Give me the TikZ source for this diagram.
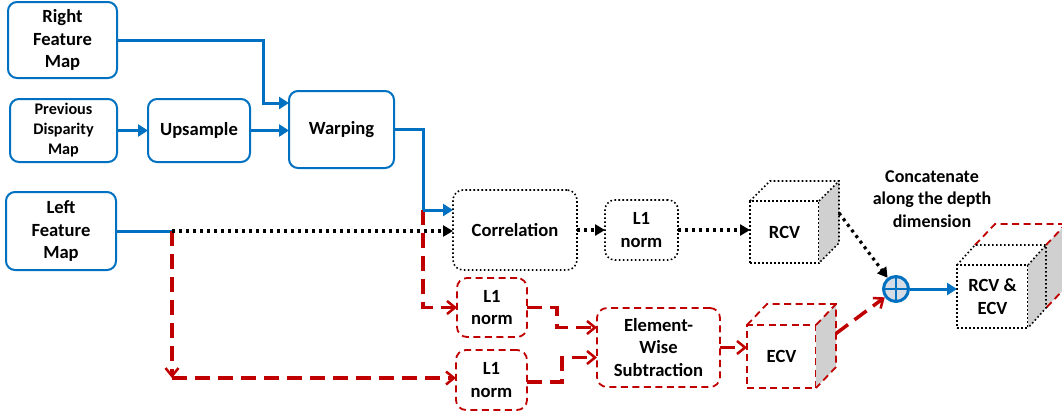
\documentclass[tikz,border=0pt]{standalone}
\usepackage{fontspec}
\setmainfont{Carlito}
\usetikzlibrary{arrows.meta,calc}
\definecolor{cblue}{RGB}{0,112,192}
\definecolor{cred}{RGB}{192,0,0}
\definecolor{cgray}{RGB}{208,208,208}
\definecolor{cplus}{RGB}{214,220,229}
\begin{document}
\begin{tikzpicture}[x=1pt,y=-1pt,
  lbl/.style={font=\fontsize{18.6}{22.5}\selectfont\bfseries, align=center, inner sep=0pt, outer sep=0pt},
  small/.style={font=\fontsize{16.2}{20}\selectfont\bfseries},
  bluebox/.style={lbl, draw=cblue, line width=2pt, rounded corners=9pt},
  dotbox/.style={lbl, draw=black, line width=1.6pt, dash pattern=on 1.6pt off 2.4pt, rounded corners=10pt},
  redbox/.style={lbl, draw=cred, line width=1.8pt, dash pattern=on 7pt off 4.5pt, rounded corners=10pt},
  cubedot/.style={draw=black, line width=1.6pt, dash pattern=on 1.6pt off 2.4pt},
  cubered/.style={draw=cred, line width=1.8pt, dash pattern=on 7pt off 4.5pt},
  blueline/.style={draw=cblue, line width=3pt},
  bluearrow/.style={blueline, -{Triangle[length=10pt,width=12pt]}},
  dotline/.style={draw=black, line width=3.2pt, dash pattern=on 3pt off 4pt},
  dotarrow/.style={dotline, -{Triangle[length=10pt,width=11pt]}},
  redline/.style={draw=cred, line width=3.5pt, dash pattern=on 15pt off 8pt},
  redarrow/.style={redline, -{Straight Barb[length=8pt,width=13pt,line width=2.5pt]}},
]
\useasboundingbox (0,0) rectangle (1062,416);
\clip (0,0) rectangle (1062,416);

% input and warping stage
\node[bluebox, minimum width=109pt, minimum height=76pt] (rfm) at (62.5,40) {Right\\Feature\\Map};
\node[bluebox, small, minimum width=107pt, minimum height=63pt] (pdm) at (63.5,130.5) {Previous\\Disparity\\Map};
\node[bluebox, minimum width=102pt, minimum height=63pt] (ups) at (199,130.5) {Upsample};
\node[bluebox, minimum width=105pt, minimum height=77pt] (warp) at (341.5,129.5) {Warping};
\node[bluebox, minimum width=110pt, minimum height=78pt] (lfm) at (61,231) {Left\\Feature\\Map};

% correlation branch
\node[dotbox, minimum width=124pt, minimum height=80pt] (corr) at (515,230) {Correlation};
\node[dotbox, minimum width=73pt, minimum height=60pt] (l1a) at (641.5,230) {L1\\norm};

% element-wise branch
\node[redbox, minimum width=70pt, minimum height=59pt] (l1b) at (492,307.5) {L1\\norm};
\node[redbox, minimum width=71pt, minimum height=60pt] (l1c) at (491.5,380) {L1\\norm};
\node[redbox, minimum width=123pt, minimum height=79pt] (ews) at (658.5,347.5) {Element-\\Wise\\Subtraction};

% cost volumes (front faces)
\node[lbl, cubedot, fill=white, minimum width=69pt, minimum height=62pt] (rcv) at (784.5,232) {RCV};
\node[lbl, cubered, fill=white, minimum width=69pt, minimum height=63pt] (ecv) at (781.5,356.5) {ECV};

% concatenation
\node[circle, draw=cblue, line width=3pt, fill=cplus, minimum size=25pt, inner sep=0pt] (plus) at (896,289) {};
\draw[cblue, line width=2pt] (plus.north) -- (plus.south) (plus.west) -- (plus.east);
\node[lbl, font=\fontsize{18}{22.5}\selectfont\bfseries] (concat) at (932,199) {Concatenate\\along the depth\\dimension};

% RCV cube depth
\fill[cgray] (rcv.north east) -- ++(20,-20) -- ++(0,62) -- (rcv.south east) -- cycle;
\draw[cubedot] (rcv.north west) -- ++(20,-20) -- ++(69,0) -- ++(0,62) -- (rcv.south east);
\draw[cubedot] (rcv.north east) -- ++(20,-20);

% ECV cube depth
\fill[cgray] (ecv.north east) -- ++(20,-21) -- ++(0,63) -- (ecv.south east) -- cycle;
\draw[cubered] (ecv.north west) -- ++(20,-21) -- ++(69,0) -- ++(0,63) -- (ecv.south east);
\draw[cubered] (ecv.north east) -- ++(20,-21);

% combined volume: red cube behind, dotted cube in front
\node[lbl, cubedot, fill=white, minimum width=71pt, minimum height=63pt] (comb) at (992.5,296.5) {RCV \&\\ECV};
\fill[cgray] ($(comb.north east)+(18,-20)$) -- ++(20,-21) -- ++(0,63) -- ($(comb.south east)+(18,-20)$) -- cycle;
\draw[cubered] ($(comb.north west)+(18,-20)$) -- ++(20,-21) -- ++(71,0) -- ++(0,63) -- ($(comb.south east)+(18,-20)$);
\draw[cubered] ($(comb.north east)+(18,-20)$) -- ++(20,-21);
\fill[cgray] (comb.north east) -- ++(18,-20) -- ++(0,63) -- (comb.south east) -- cycle;
\draw[cubedot] (comb.north west) -- ++(18,-20) -- ++(71,0) -- ++(0,63) -- (comb.south east);
\draw[cubedot] (comb.north east) -- ++(18,-20);

% blue connectors
\coordinate (split) at (423,210);
\coordinate (lsplit) at (172,231);
\coordinate (lcorner) at (172,378);
\draw[bluearrow] (rfm.east) -| ($(warp.west)+(-26,-26.5)$) -- ($(warp.west)+(0,-26.5)$);
\draw[bluearrow] (pdm) -- (ups);
\draw[bluearrow] (ups.east) -- (ups.east -| warp.west);
\draw[blueline] (warp.east) -| (split);
\draw[blueline] (lfm.east) -- (lsplit);

% red connectors
\draw[redarrow] (split) |- (l1b.west);
\draw[redarrow] (lsplit) -- (lcorner);
\draw[redarrow] (lcorner) -- (lcorner -| l1c.west);
\draw[redarrow] (l1b.east) -- ++(30,0) |- ($(ews.west)+(0,-20)$);
\draw[redarrow] ($(l1c.east)+(0,2)$) -- ++(35,0) |- ($(ews.west)+(0,10)$);
\draw[redarrow] (ews.east) -- (ews.east -| ecv.west);
\draw[redarrow] ($(ecv.east)+(20,-23)$) -- (plus);

% dotted connectors
\draw[dotarrow] (lsplit) -- (lsplit -| corr.west);
\draw[dotarrow] (corr) -- (l1a);
\draw[dotarrow] (l1a.east) -- (l1a.east -| rcv.west);
\draw[dotarrow] ($(rcv.east)+(20,-19)$) -- (plus);

% blue arrows drawn last
\draw[bluearrow] (split) -- (split -| corr.west);
\draw[bluearrow] (plus.east) -- (plus.east -| comb.west);
\end{tikzpicture}
\end{document}
